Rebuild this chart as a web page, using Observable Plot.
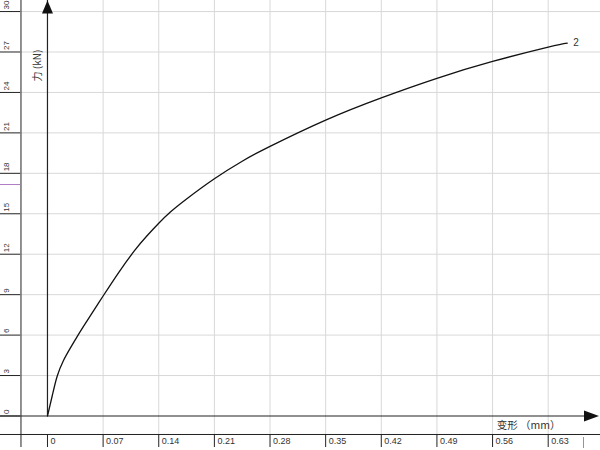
<!DOCTYPE html>
<html>
<head>
<meta charset="utf-8">
<script src="https://cdn.jsdelivr.net/npm/d3@7"></script>
<script src="https://cdn.jsdelivr.net/npm/@observablehq/plot@0.6"></script>
<style>
  html, body { margin: 0; padding: 0; background: #fff; }
  #chart svg { display: block; }
</style>
</head>
<body>
<div id="chart"></div>
<script>
// ---- data ----
const deformation = [0, 0.006, 0.0122, 0.02, 0.0289, 0.04, 0.05, 0.07, 0.09,  0.11, 0.125, 0.14, 0.155, 0.175, 0.21, 0.245, 0.28, 0.35,  0.42, 0.49,  0.56, 0.63,  0.6539];
const force       = [0, 1.5,   2.95,   4.1,  5.05,   6.15, 7.08, 8.9,  10.68, 12.3, 13.35, 14.3, 15.15, 16.1,  17.6, 18.9,  20.0, 21.95, 23.6, 25.05, 26.3, 27.37, 27.66];
const seriesLabel = "2";

const xTicks  = [0, 0.07, 0.14, 0.21, 0.28, 0.35, 0.42, 0.49, 0.56, 0.63];
const xLabels = ["0", "0.07", "0.14", "0.21", "0.28", "0.35", "0.42", "0.49", "0.56", "0.63"];
const yTicks  = [0, 3, 6, 9, 12, 15, 18, 21, 24, 27, 30];
const yLabels = ["0", "3", "6", "9", "12", "15", "18", "21", "24", "27", "30"];

const markerForce = [17.17];
const markerDeformation = [0.6744];

const xTitle = "变形 （mm）";
const yTitle = "力 (kN)";

// ---- styling ----
const grid = "#d8d8d8";
const ink = "#222";
const marker = "#b07cc6";
const labelFont = "'Liberation Sans', Arial, sans-serif";
const cjkFont = "'Noto Sans CJK SC', 'Noto Sans', sans-serif";

const arrowUp = { draw(ctx) { ctx.moveTo(0, -6.5); ctx.lineTo(5.5, 6.5); ctx.lineTo(-5.5, 6.5); ctx.closePath(); } };
const arrowRight = { draw(ctx) { ctx.moveTo(7.5, 0); ctx.lineTo(-7.5, -5.5); ctx.lineTo(-7.5, 5.5); ctx.closePath(); } };

const idx = force.map((_, i) => i);
const last = idx.length - 1;

const chart = Plot.plot({
  width: 600,
  height: 450,
  margin: 0,
  x: { domain: [-0.0591, 0.6958], axis: null },
  y: { domain: [-2.56, 30.82], axis: null },
  style: { background: "#fff", fontFamily: labelFont, color: "#333" },
  marks: [
    // light grid
    Plot.ruleY(yTicks.filter(d => d !== 0), { stroke: grid, insetLeft: 20 }),
    Plot.ruleX(xTicks.filter(d => d !== 0), { stroke: grid, insetBottom: 16 }),
    // left tick segments
    Plot.ruleY(yTicks, { stroke: ink, insetRight: 580 }),
    // left frame line and bottom frame line
    Plot.ruleX([0], { stroke: ink, dx: -26.5, insetBottom: 3 }),
    Plot.ruleY([0], { stroke: ink, dy: 18.5 }),
    // bottom tick marks
    Plot.ruleX(xTicks, { stroke: ink, insetTop: 434, insetBottom: 3 }),
    // markers
    Plot.ruleY(markerForce, { stroke: marker, insetRight: 580 }),
    Plot.ruleX(markerDeformation, { stroke: marker, insetTop: 437, insetBottom: 2 }),
    // axes with arrows
    Plot.ruleY([0], { stroke: ink, insetRight: 8, strokeWidth: 1.2 }),
    Plot.ruleX([0], { y1: 0, y2: 30.82, stroke: ink, strokeWidth: 1.2 }),
    Plot.dot([0], { x: d => d, frameAnchor: "top", dy: 6.5, symbol: arrowUp, fill: "#111", stroke: "none" }),
    Plot.dot([0], { y: d => d, frameAnchor: "right", dx: -9, symbol: arrowRight, fill: "#111", stroke: "none" }),
    // tick labels
    Plot.text(yTicks, { y: d => d, text: yLabels, frameAnchor: "left", dx: 6, dy: -2, rotate: -90, textAnchor: "start", fontSize: 8, fill: "#333" }),
    Plot.text(xTicks, { x: d => d, text: xLabels, frameAnchor: "bottom", dy: -7, dx: 3, textAnchor: "start", fontSize: 9, fill: "#333" }),
    // axis titles
    Plot.text([yTitle], { x: () => 0, text: d => d, frameAnchor: "top", dy: 65, dx: -14, rotate: -90, fontSize: 10, fontFamily: cjkFont, fill: "#333" }),
    Plot.text([xTitle], { y: () => 0, text: d => d, frameAnchor: "right", dx: -40, dy: 9.5, textAnchor: "end", fontSize: 10.5, fontFamily: cjkFont, fill: "#333" }),
    // curve
    Plot.line(idx, { x: i => deformation[i], y: i => force[i], curve: "natural", stroke: "#111", strokeWidth: 1.3 }),
    Plot.text([last], { x: i => deformation[i], y: i => force[i], text: () => seriesLabel, dx: 6, textAnchor: "start", fontSize: 10, fill: "#333" })
  ]
});

document.getElementById("chart").appendChild(chart);
</script>
</body>
</html>
